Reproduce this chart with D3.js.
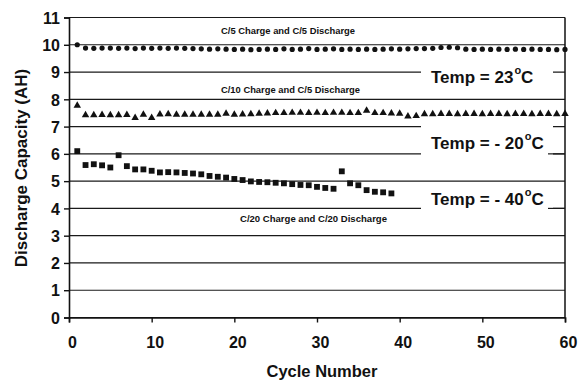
<!DOCTYPE html>
<html>
<head>
<meta charset="utf-8">
<script src="https://cdn.jsdelivr.net/npm/d3@7/dist/d3.min.js"></script>
<style>
  html, body { margin: 0; padding: 0; background: #fff; }
  svg { display: block; font-family: "Liberation Sans", Arial, sans-serif; }
</style>
</head>
<body>
<svg id="chart" width="586" height="381"></svg>
<script>
// Cycle numbers for each test series
const cycles23 = [1,2,3,4,5,6,7,8,9,10,11,12,13,14,15,16,17,18,19,20,21,22,23,24,25,26,27,28,29,30,
                  31,32,33,34,35,36,37,38,39,40,41,42,43,44,45,46,47,48,49,50,51,52,53,54,55,56,57,58,59,60];
const cycles20 = cycles23;
const cycles40 = [1,2,3,4,5,6,7,8,9,10,11,12,13,14,15,16,17,18,19,20,21,22,23,24,25,26,27,28,29,30,
                  31,32,33,34,35,36,37,38,39];

// Discharge capacity (AH) per cycle
const cap23 = [10.00, 9.88, 9.87, 9.88, 9.88, 9.87, 9.88, 9.86, 9.88, 9.87, 9.88, 9.87, 9.88, 9.87, 9.86,
               9.85, 9.84, 9.85, 9.84, 9.83, 9.84, 9.82, 9.83, 9.84, 9.83, 9.85, 9.83, 9.84, 9.86, 9.83,
               9.84, 9.85, 9.83, 9.84, 9.83, 9.84, 9.83, 9.84, 9.85, 9.84, 9.85, 9.86, 9.86, 9.87, 9.90,
               9.91, 9.89, 9.84, 9.83, 9.84, 9.83, 9.84, 9.83, 9.84, 9.83, 9.84, 9.83, 9.83, 9.82, 9.83];
const capM20 = [7.77, 7.42, 7.42, 7.43, 7.42, 7.42, 7.43, 7.32, 7.44, 7.32, 7.45, 7.46, 7.44, 7.44, 7.44,
                7.44, 7.44, 7.44, 7.48, 7.44, 7.45, 7.46, 7.48, 7.49, 7.50, 7.50, 7.51, 7.51, 7.50, 7.51,
                7.50, 7.51, 7.51, 7.50, 7.50, 7.59, 7.50, 7.50, 7.49, 7.48, 7.38, 7.39, 7.46, 7.46, 7.47,
                7.47, 7.46, 7.47, 7.47, 7.46, 7.47, 7.47, 7.46, 7.47, 7.47, 7.46, 7.47, 7.47, 7.46, 7.47];
const capM40 = [6.10, 5.59, 5.62, 5.58, 5.50, 5.95, 5.55, 5.43, 5.43, 5.38, 5.32, 5.33, 5.32, 5.30, 5.28,
                5.25, 5.19, 5.16, 5.13, 5.08, 5.04, 4.99, 4.97, 4.96, 4.94, 4.92, 4.89, 4.86, 4.85, 4.79,
                4.75, 4.72, 5.36, 4.92, 4.85, 4.67, 4.61, 4.59, 4.55];

// Axis ticks
const xTicks = [0, 10, 20, 30, 40, 50, 60];
const yTicks = [0, 1, 2, 3, 4, 5, 6, 7, 8, 9, 10, 11];

// Annotation texts
const rateLabels = ["C/5 Charge and C/5 Discharge", "C/10 Charge and C/5 Discharge", "C/20 Charge and C/20 Discharge"];
const tempLabels = ["23", "- 20", "- 40"];

const svg = d3.select("#chart");
const plotL = 69, plotR = 565, plotT = 17.5, plotB = 317.5;

const x = d3.scaleLinear().domain([0, 60]).range([plotL, plotR]);
const y = d3.scaleLinear().domain([0, 11]).range([plotB, plotT]);

// Horizontal grid lines
svg.append("g")
  .selectAll("line")
  .data(yTicks)
  .join("line")
  .attr("x1", plotL).attr("x2", plotR)
  .attr("y1", d => y(d)).attr("y2", d => y(d))
  .attr("stroke", "#1a1a1a")
  .attr("stroke-width", 1.2);

// Right frame edge
svg.append("line")
  .attr("x1", plotR).attr("x2", plotR)
  .attr("y1", plotT).attr("y2", plotB)
  .attr("stroke", "#111").attr("stroke-width", 1.5);

// Axes
const yAxis = d3.axisLeft(y).tickValues(yTicks).tickFormat(d3.format("d")).tickSize(5).tickPadding(4);
const xAxis = d3.axisBottom(x).tickValues(xTicks).tickFormat(d3.format("d")).tickSize(5).tickPadding(14);

const gy = svg.append("g").attr("transform", `translate(${plotL},0)`).call(yAxis);
const gx = svg.append("g").attr("transform", `translate(0,${plotB})`).call(xAxis);

[gy, gx].forEach(g => {
  g.select(".domain").attr("stroke", "#111").attr("stroke-width", 1.6);
  g.selectAll(".tick line").attr("stroke", "#111").attr("stroke-width", 1.4);
  g.selectAll(".tick text")
    .attr("fill", "#111")
    .attr("font-family", "Liberation Sans, Arial, sans-serif")
    .attr("font-weight", "bold")
    .attr("font-size", 16);
});
gx.selectAll(".tick text").attr("dx", 3);
gy.selectAll(".tick text").attr("dy", "0.36em");

// Axis titles
svg.append("text")
  .attr("x", 322).attr("y", 377)
  .attr("text-anchor", "middle")
  .attr("font-weight", "bold").attr("font-size", 16.5)
  .attr("fill", "#111")
  .text("Cycle Number");

svg.append("text")
  .attr("transform", "translate(27,168) rotate(-90)")
  .attr("text-anchor", "middle")
  .attr("font-weight", "bold").attr("font-size", 17)
  .attr("fill", "#111")
  .text("Discharge Capacity (AH)");

// Temperature labels on white boxes that break the grid lines
const tempBoxes = [
  { label: tempLabels[0], y0: 60, y1: 92, base: 83 },
  { label: tempLabels[1], y0: 123, y1: 157, base: 149 },
  { label: tempLabels[2], y0: 186, y1: 213, base: 205 }
];
tempBoxes.forEach(b => {
  svg.append("rect")
    .attr("x", 421).attr("y", b.y0)
    .attr("width", 132).attr("height", b.y1 - b.y0)
    .attr("fill", "#fff");
  const t = svg.append("text")
    .attr("x", 431).attr("y", b.base)
    .attr("font-weight", "bold").attr("font-size", 17)
    .attr("fill", "#111");
  t.append("tspan").text("Temp = " + b.label);
  t.append("tspan").attr("font-size", 11).attr("dy", -9).attr("dx", 1).text("o");
  t.append("tspan").attr("dy", 9).text("C");
});

// Short underline after the -20 and -40 labels
svg.selectAll(".gap-tail")
  .data([6, 4])
  .join("line")
  .attr("x1", 548).attr("x2", plotR)
  .attr("y1", d => y(d)).attr("y2", d => y(d))
  .attr("stroke", "#1a1a1a").attr("stroke-width", 1.2);

// Test condition labels
const rateSpecs = [
  { text: rateLabels[0], x: 221, y: 34, w: 134 },
  { text: rateLabels[1], x: 221, y: 92.5, w: 139 },
  { text: rateLabels[2], x: 240, y: 221.5, w: 147 }
];
svg.selectAll(".rate")
  .data(rateSpecs)
  .join("text")
  .attr("class", "rate")
  .attr("x", d => d.x).attr("y", d => d.y)
  .attr("font-weight", "bold").attr("font-size", 8.5)
  .attr("textLength", d => d.w).attr("lengthAdjust", "spacingAndGlyphs")
  .attr("fill", "#111")
  .text(d => d.text);

// Markers
const ink = "#111";
svg.append("g")
  .selectAll("circle")
  .data(cap23.map((v, i) => ({ c: cycles23[i], v })))
  .join("circle")
  .attr("cx", d => x(d.c)).attr("cy", d => y(d.v))
  .attr("r", 2.6)
  .attr("fill", ink);

const tri = d3.symbol().type(d3.symbolTriangle).size(24);
svg.append("g")
  .selectAll("path")
  .data(capM20.map((v, i) => ({ c: cycles20[i], v })))
  .join("path")
  .attr("transform", d => `translate(${x(d.c)},${y(d.v)})`)
  .attr("d", tri)
  .attr("fill", ink);

const sq = d3.symbol().type(d3.symbolSquare).size(34);
svg.append("g")
  .selectAll("path")
  .data(capM40.map((v, i) => ({ c: cycles40[i], v })))
  .join("path")
  .attr("transform", d => `translate(${x(d.c)},${y(d.v)})`)
  .attr("d", sq)
  .attr("fill", ink);
</script>
</body>
</html>
